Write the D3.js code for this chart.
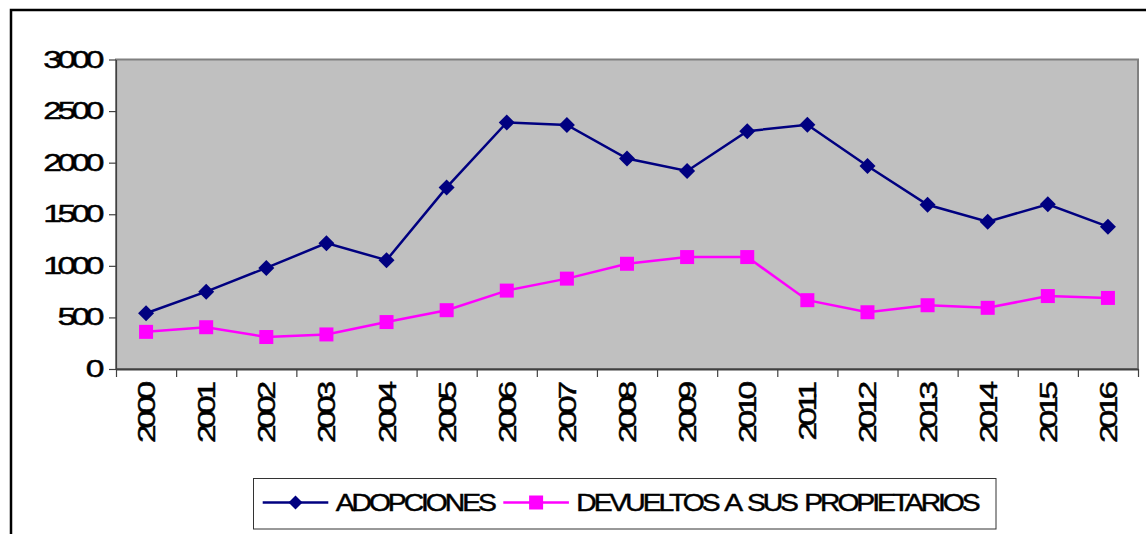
<!DOCTYPE html>
<html>
<head>
<meta charset="utf-8">
<script src="https://cdn.jsdelivr.net/npm/d3@7"></script>
<style>
  html, body { margin: 0; padding: 0; background: #fff; }
  svg { display: block; }
  text { font-family: "Liberation Sans", Arial, sans-serif; fill: #000; stroke: #000; stroke-width: 0.45px; }
</style>
</head>
<body>
<svg id="chart" width="1146" height="534"></svg>
<script>
const years = ['2000','2001','2002','2003','2004','2005','2006','2007','2008','2009','2010','2011','2012','2013','2014','2015','2016'];
const adopciones = [540, 750, 980, 1220, 1055, 1760, 2390, 2365, 2040, 1920, 2305, 2368, 1968, 1592, 1428, 1597, 1380];
const devueltos = [360, 405, 310, 335, 455, 570, 760, 876, 1020, 1085, 1085, 667, 550, 618, 593, 707, 689];
const yTicks = [0, 500, 1000, 1500, 2000, 2500, 3000];
const seriesNames = ['ADOPCIONES', 'DEVUELTOS A SUS PROPIETARIOS'];

const svg = d3.select('#chart');
const L = 116, R = 1138, T = 59.5, B = 369;
const SX = 1.4;
const SXL = 1.18;

const x = d3.scaleBand().domain(years).range([L, R]);
const xb = d3.scaleLinear().domain([0, years.length]).range([L, R]);
const y = d3.scaleLinear().domain([0, 3000]).range([B, T]);
const cx = d => x(d) + x.bandwidth() / 2;

// outer frame
svg.append('rect').attr('x', 11).attr('y', 10).attr('width', 1150).attr('height', 540)
  .attr('fill', 'none').attr('stroke', '#000').attr('stroke-width', 2.5);

// plot area
svg.append('rect').attr('x', L).attr('y', T).attr('width', R - L).attr('height', B - T)
  .attr('fill', '#c0c0c0').attr('stroke', '#808080').attr('stroke-width', 2);

// y axis
const yAxis = svg.append('g').attr('transform', `translate(${L},0)`)
  .call(d3.axisLeft(y).tickValues(yTicks).tickSize(7).tickSizeOuter(0).tickFormat(''));
yAxis.selectAll('line').attr('stroke', '#404040').attr('stroke-width', 1.2);
yAxis.select('.domain').attr('stroke', '#404040').attr('stroke-width', 1.2);

// x axis
const xAxis = svg.append('g').attr('transform', `translate(0,${B})`)
  .call(d3.axisBottom(xb).tickValues(d3.range(years.length + 1)).tickSize(8).tickSizeOuter(0).tickFormat(''));
xAxis.selectAll('line').attr('stroke', '#404040').attr('stroke-width', 1.2);
xAxis.select('.domain').attr('stroke', '#404040').attr('stroke-width', 2.2);

// y labels
svg.append('g').selectAll('text').data(yTicks).join('text')
  .attr('transform', d => `translate(100,${y(d) + 8}) scale(${SX},1)`)
  .attr('text-anchor', 'end')
  .attr('font-size', 24)
  .attr('letter-spacing', -3.2)
  .text(d => d);

// x labels
svg.append('g').selectAll('text').data(years).join('text')
  .attr('transform', d => `translate(${cx(d) + 9},385) rotate(-90) scale(${SX},1)`)
  .attr('text-anchor', 'end')
  .attr('font-size', 24)
  .attr('letter-spacing', -3.0)
  .text(d => d);

// lines
const line = d3.line().x((d, i) => cx(years[i])).y(d => y(d));
svg.append('path').datum(adopciones).attr('d', line)
  .attr('fill', 'none').attr('stroke', '#000080').attr('stroke-width', 2.5);
svg.append('path').datum(devueltos).attr('d', line)
  .attr('fill', 'none').attr('stroke', '#ff00ff').attr('stroke-width', 2.5);

const diamond = s => `M0,${-s}L${s},0L0,${s}L${-s},0Z`;
svg.append('g').selectAll('path').data(adopciones).join('path')
  .attr('transform', (d, i) => `translate(${cx(years[i])},${y(d)})`)
  .attr('d', diamond(8)).attr('fill', '#000080');
svg.append('g').selectAll('rect').data(devueltos).join('rect')
  .attr('x', (d, i) => cx(years[i]) - 7).attr('y', d => y(d) - 7)
  .attr('width', 14).attr('height', 14).attr('fill', '#ff00ff');

// legend
const lg = svg.append('g');
lg.append('rect').attr('x', 253.5).attr('y', 478.5).attr('width', 742.5).attr('height', 50.5)
  .attr('fill', '#fff').attr('stroke', '#333').attr('stroke-width', 1);
const ly = 502.5;
const legendItems = [
  { name: seriesNames[0], color: '#000080', x0: 262.7, x1: 328.3, tx: 335.7, marker: 'diamond' },
  { name: seriesNames[1], color: '#ff00ff', x0: 503.3, x1: 568.9, tx: 576.3, marker: 'square' }
];
legendItems.forEach(it => {
  lg.append('line').attr('x1', it.x0).attr('x2', it.x1).attr('y1', ly).attr('y2', ly)
    .attr('stroke', it.color).attr('stroke-width', 2.5);
  const mx = (it.x0 + it.x1) / 2;
  if (it.marker === 'diamond') {
    lg.append('path').attr('transform', `translate(${mx},${ly})`).attr('d', diamond(7)).attr('fill', it.color);
  } else {
    lg.append('rect').attr('x', mx - 7).attr('y', ly - 7).attr('width', 14).attr('height', 14).attr('fill', it.color);
  }
  lg.append('text')
    .attr('transform', `translate(${it.tx},${ly + 8.5}) scale(${SXL},1)`)
    .attr('font-size', 24)
    .attr('letter-spacing', -2.6)
    .attr('word-spacing', 3)
    .text(it.name);
});
</script>
</body>
</html>
